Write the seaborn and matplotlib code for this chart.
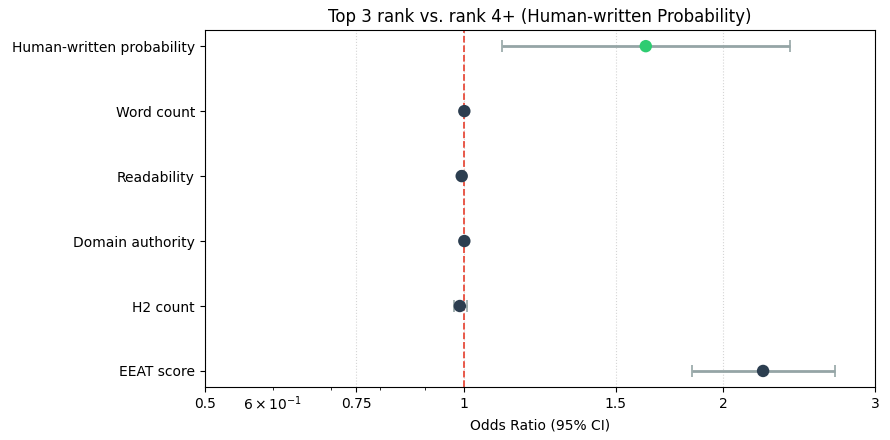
import matplotlib
matplotlib.use("Agg")
import matplotlib.pyplot as plt
import seaborn as sns
import numpy as np
import pandas as pd

features = ["Human-written probability", "Word count", "Readability",
            "Domain authority", "H2 count", "EEAT score"]
odds = [1.626, 1.001, 0.994, 1.001, 0.989, 2.225]
ci_low = [1.107, 0.999, 0.989, 0.999, 0.975, 1.84]
ci_high = [2.39, 1.003, 0.999, 1.003, 1.007, 2.70]
highlight = [True, False, False, False, False, False]

tick_vals = [0.5, 0.75, 1, 1.5, 2, 3]
tick_labels = ["0.5", "0.75", "1", "1.5", "2", "3"]

df = pd.DataFrame({"feature": features, "odds": odds, "lo": ci_low,
                   "hi": ci_high, "hl": highlight})
df["y"] = np.arange(len(df))

fig, ax = plt.subplots(figsize=(8.9, 4.4), dpi=100)
fig.subplots_adjust(left=0.23, right=0.983, top=0.932, bottom=0.12)

ax.errorbar(df["odds"], df["y"],
            xerr=[df["odds"] - df["lo"], df["hi"] - df["odds"]],
            fmt="none", ecolor="#95a5a6", elinewidth=2, capsize=4, capthick=1.2,
            zorder=2)
sns.scatterplot(data=df, x="odds", y="y", hue="hl",
                palette={True: "#2ecc71", False: "#2c3e50"},
                s=80, edgecolor="none", legend=False, ax=ax, zorder=3)
ax.axvline(1, color="#e74c3c", linestyle="--", linewidth=1.3, zorder=1)

ax.set_xscale("log")
ax.set_xlim(0.5, 3)
ax.set_xticks(tick_vals)
ax.set_xticklabels(tick_labels)
ax.grid(True, axis="x", which="major", linestyle=":", color="#d5d5d5", linewidth=0.8)
ax.set_axisbelow(True)

ax.set_yticks(df["y"])
ax.set_yticklabels(df["feature"])
ax.invert_yaxis()
ax.set_ylabel("")
ax.set_xlabel("Odds Ratio (95% CI)")
ax.set_title("Top 3 rank vs. rank 4+ (Human-written Probability)", fontsize=12)

fig.savefig("out.png", dpi=100)
